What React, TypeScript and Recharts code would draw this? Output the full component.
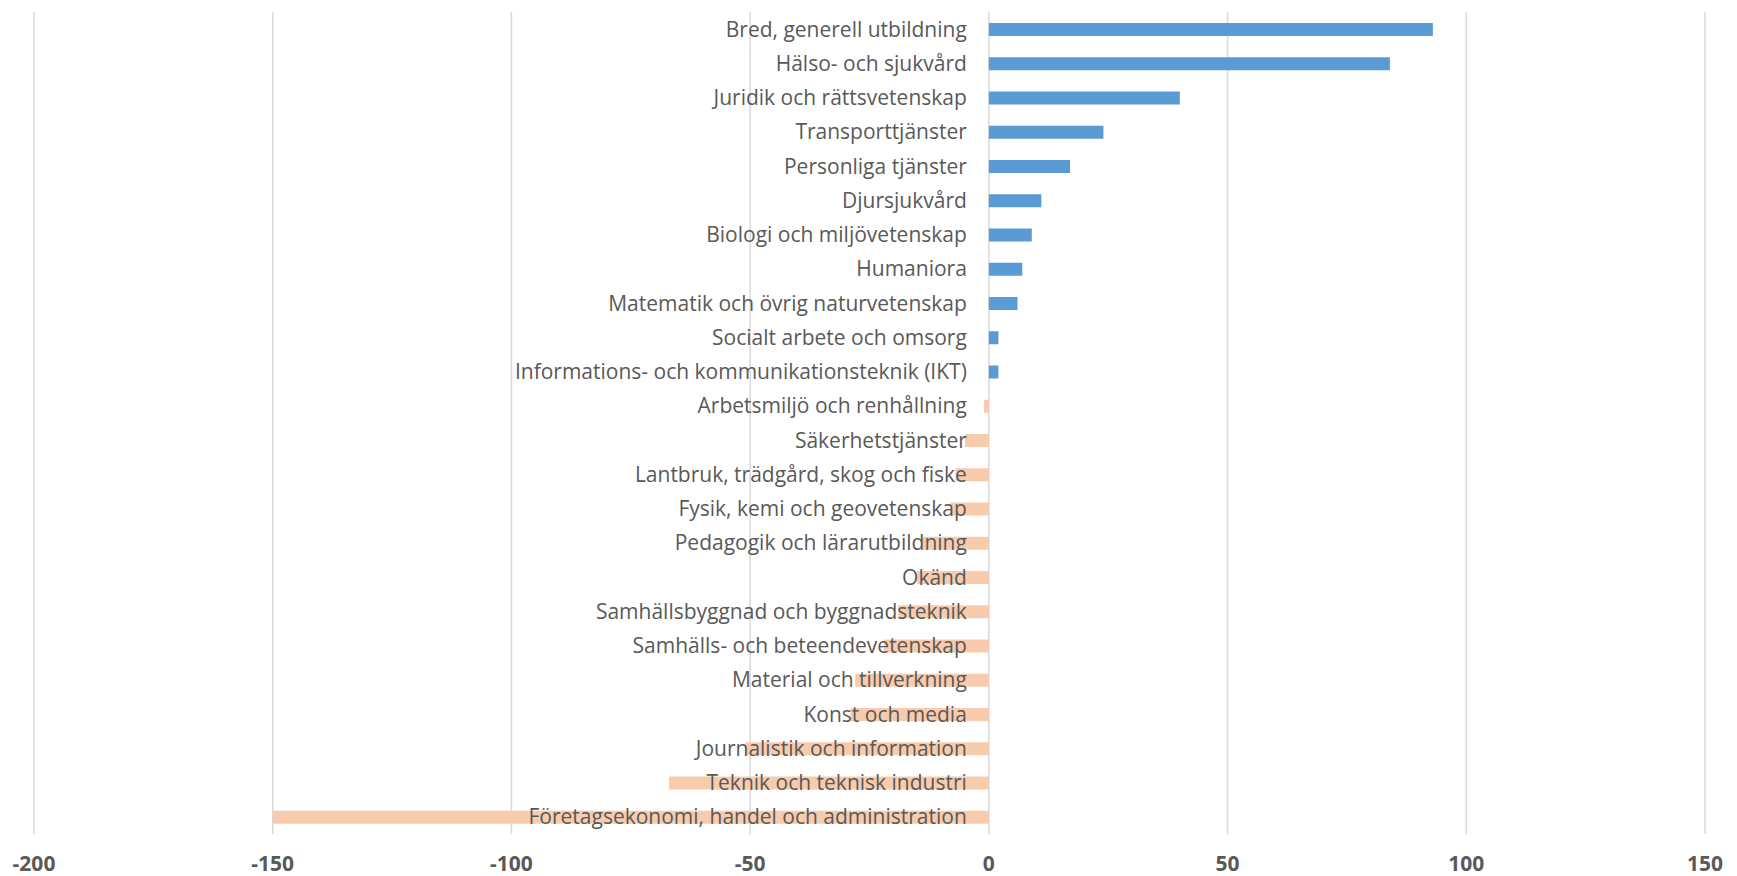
import React from 'react';
import { BarChart, Bar, XAxis, YAxis, CartesianGrid, Cell, LabelList } from 'recharts';

// Categories from top to bottom
const categories = [
  'Bred, generell utbildning',
  'Hälso- och sjukvård',
  'Juridik och rättsvetenskap',
  'Transporttjänster',
  'Personliga tjänster',
  'Djursjukvård',
  'Biologi och miljövetenskap',
  'Humaniora',
  'Matematik och övrig naturvetenskap',
  'Socialt arbete och omsorg',
  'Informations- och kommunikationsteknik (IKT)',
  'Arbetsmiljö och renhållning',
  'Säkerhetstjänster',
  'Lantbruk, trädgård, skog och fiske',
  'Fysik, kemi och geovetenskap',
  'Pedagogik och lärarutbildning',
  'Okänd',
  'Samhällsbyggnad och byggnadsteknik',
  'Samhälls- och beteendevetenskap',
  'Material och tillverkning',
  'Konst och media',
  'Journalistik och information',
  'Teknik och teknisk industri',
  'Företagsekonomi, handel och administration',
];

const values = [93, 84, 40, 24, 17, 11, 9, 7, 6, 2, 2, -1, -5, -7, -8, -14, -15, -19, -22, -28, -29, -51, -67, -150];

const xTicks = [-200, -150, -100, -50, 0, 50, 100, 150];

const POS_COLOR = '#5B9BD5';
const NEG_COLOR = '#F8CBAD';
const TEXT_COLOR = '#595959';
const FONT = '"Open Sans", Lato, sans-serif';

const data = categories.map((name, i) => ({ name, value: values[i] }));

// label drawn next to the zero line, on top of the bar
const CategoryLabel = (props: any) => {
  const { x, y, width, height, index } = props;
  const v = values[index];
  const left = Math.min(x, x + width);
  const right = Math.max(x, x + width);
  const zero = v >= 0 ? left : right;
  return (
    <text
      x={zero - 22}
      y={y + height / 2 - 1}
      textAnchor="end"
      dominantBaseline="central"
      fill={TEXT_COLOR}
      fontSize={21}
      fontFamily={FONT}
    >
      {categories[index]}
    </text>
  );
};

export default function App() {
  return (
    <div style={{ position: 'absolute', left: 0, top: 0, background: '#fff' }}>
      <BarChart
        width={1737}
        height={876}
        data={data}
        layout="vertical"
        margin={{ top: 12, right: 32, left: 34, bottom: 0 }}
        barCategoryGap={0}
      >
        <CartesianGrid horizontal={false} stroke="#D9D9D9" strokeWidth={1.5} />
        <XAxis
          type="number"
          domain={[-200, 150]}
          ticks={xTicks}
          interval={0}
          axisLine={false}
          tickLine={false}
          tickSize={0}
          tickMargin={22}
          height={42}
          tick={{ fill: TEXT_COLOR, fontSize: 21, fontWeight: 700, fontFamily: FONT }}
        />
        <YAxis type="category" dataKey="name" width={0} hide />
        <Bar dataKey="value" barSize={13} isAnimationActive={false}>
          {data.map((d, i) => (
            <Cell key={`cell-${i}`} fill={d.value >= 0 ? POS_COLOR : NEG_COLOR} />
          ))}
          <LabelList dataKey="value" content={CategoryLabel} />
        </Bar>
      </BarChart>
    </div>
  );
}
